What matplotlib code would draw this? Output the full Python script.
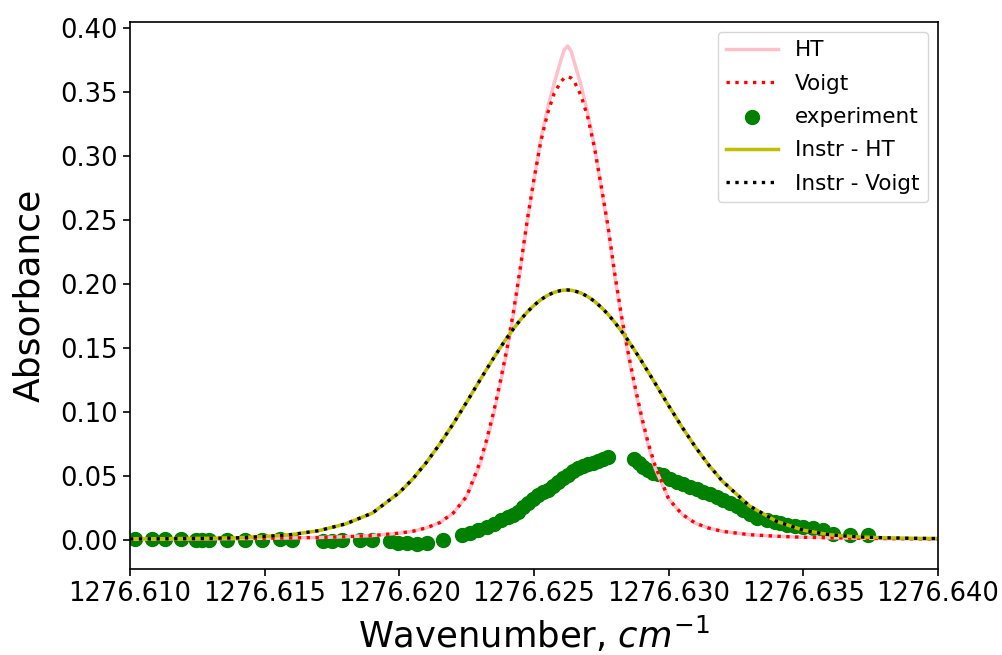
import matplotlib
matplotlib.use('Agg')
import matplotlib.pyplot as plt


# model curves: wavenumber grid and absorbance
wavenumber = [1276.6100, 1276.6110, 1276.6120, 1276.6130, 1276.6140, 1276.6150,
              1276.6160, 1276.6170, 1276.6180, 1276.6190, 1276.6200, 1276.62050,
              1276.6210, 1276.62150, 1276.6220, 1276.62250, 1276.6230, 1276.62325,
              1276.62350, 1276.62375, 1276.6240, 1276.62425, 1276.62450, 1276.62475,
              1276.6250, 1276.62525, 1276.62550, 1276.62575, 1276.6260, 1276.626125,
              1276.62625, 1276.626375,
              1276.62650, 1276.62675, 1276.6270, 1276.62725, 1276.62750, 1276.62775,
              1276.6280, 1276.62825, 1276.62850, 1276.62875, 1276.6290, 1276.62925,
              1276.62950, 1276.6300, 1276.63050, 1276.6310, 1276.63150, 1276.6320,
              1276.6330, 1276.6340, 1276.6350, 1276.6360, 1276.6370, 1276.6380,
              1276.6390, 1276.6400]

ht = [0.0006, 0.0007, 0.0008, 0.0009, 0.0011, 0.0013,
      0.0016, 0.0019, 0.0025, 0.0034, 0.0053, 0.0068,
      0.0094, 0.0135, 0.021, 0.034, 0.059, 0.077,
      0.098, 0.122, 0.148, 0.178, 0.212, 0.249,
      0.281, 0.313, 0.337, 0.357, 0.375, 0.383,
      0.386, 0.382,
      0.373, 0.355, 0.333, 0.307, 0.275, 0.243,
      0.206, 0.173, 0.144, 0.118, 0.094, 0.073,
      0.056, 0.032, 0.020, 0.013, 0.0092, 0.0067,
      0.0041, 0.0029, 0.0021, 0.0017, 0.0014, 0.0011,
      0.0009, 0.0008]

voigt = [0.0006, 0.0007, 0.0008, 0.0009, 0.0011, 0.0013,
         0.0016, 0.0019, 0.0025, 0.0034, 0.0053, 0.0068,
         0.0094, 0.0135, 0.021, 0.034, 0.061, 0.079,
         0.100, 0.124, 0.150, 0.180, 0.214, 0.250,
         0.282, 0.311, 0.333, 0.349, 0.358, 0.361,
         0.362, 0.361,
         0.358, 0.347, 0.330, 0.306, 0.276, 0.245,
         0.208, 0.175, 0.146, 0.120, 0.096, 0.075,
         0.058, 0.032, 0.020, 0.013, 0.0092, 0.0067,
         0.0041, 0.0029, 0.0021, 0.0017, 0.0014, 0.0011,
         0.0009, 0.0008]

instr_ht = [0.0008, 0.0009, 0.0011, 0.0013, 0.0017, 0.0027,
            0.0042, 0.0072, 0.0125, 0.021, 0.037, 0.0477,
            0.0604, 0.0749, 0.0907, 0.1077, 0.1251, 0.1337,
            0.1421, 0.1503, 0.1581, 0.1654, 0.1721, 0.1781,
            0.1833, 0.1877, 0.1911, 0.1935, 0.1949, 0.1952,
            0.1953, 0.1951,
            0.1946, 0.1929, 0.1901, 0.1864, 0.1817, 0.1763,
            0.1700, 0.1631, 0.1557, 0.1477, 0.1395, 0.1309,
            0.1223, 0.1049, 0.0881, 0.0724, 0.0582, 0.0458,
            0.0266, 0.0146, 0.0076, 0.0040, 0.0024, 0.0017,
            0.0013, 0.0011]

instr_voigt = [0.0008, 0.0009, 0.0011, 0.0013, 0.0017, 0.0027,
               0.0042, 0.0072, 0.0125, 0.021, 0.037, 0.0477,
               0.0604, 0.0749, 0.0907, 0.1077, 0.1251, 0.1337,
               0.1421, 0.1503, 0.1581, 0.1654, 0.1721, 0.1781,
               0.1833, 0.1877, 0.1911, 0.1935, 0.1949, 0.1952,
               0.1953, 0.1951,
               0.1946, 0.1929, 0.1901, 0.1864, 0.1817, 0.1763,
               0.1700, 0.1631, 0.1557, 0.1477, 0.1395, 0.1309,
               0.1223, 0.1049, 0.0881, 0.0724, 0.0582, 0.0458,
               0.0266, 0.0146, 0.0076, 0.0040, 0.0024, 0.0017,
               0.0013, 0.0011]

# measured spectrum
exp_wavenumber = [1276.61019, 1276.61082, 1276.61130, 1276.61189, 1276.61245, 1276.61267,
                  1276.61293, 1276.61360, 1276.61427, 1276.61490, 1276.61557, 1276.61602,
                  1276.61717, 1276.61750, 1276.61787, 1276.61854, 1276.61899, 1276.61965,
                  1276.61995, 1276.62028, 1276.62066, 1276.62103, 1276.62162, 1276.62233,
                  1276.62262, 1276.62292, 1276.62326, 1276.62352, 1276.62378, 1276.62404,
                  1276.62422, 1276.62441, 1276.62459, 1276.62478, 1276.62496, 1276.62515,
                  1276.62533, 1276.62552, 1276.62571, 1276.62589, 1276.62608, 1276.62626,
                  1276.62645, 1276.62663, 1276.62682, 1276.62701, 1276.62719, 1276.62738,
                  1276.62756, 1276.62775,
                  1276.62871, 1276.62890, 1276.62905, 1276.62923, 1276.62942, 1276.62960,
                  1276.62979, 1276.63005, 1276.63031, 1276.63053, 1276.63079, 1276.63105,
                  1276.63128, 1276.63154, 1276.63179, 1276.63202, 1276.63228, 1276.63254,
                  1276.63276, 1276.63302, 1276.63328, 1276.63365, 1276.63395, 1276.63413,
                  1276.63439, 1276.63469, 1276.63499, 1276.63536, 1276.63573, 1276.63610,
                  1276.63673, 1276.63740]

exp_absorbance = [0.0004, 0.0004, 0.0004, 0.0004, 0.0000, -0.0004,
                  0.0000, -0.0004, 0.0000, 0.0000, 0.0004, 0.0000,
                  -0.0012, -0.0012, 0.0000, -0.0004, -0.0004, -0.0012,
                  -0.0020, -0.0023, -0.0031, -0.0023, -0.0004, 0.0039,
                  0.0055, 0.0074, 0.0098, 0.0121, 0.0152, 0.0176,
                  0.0195, 0.0221, 0.0254, 0.0287, 0.0320, 0.0352,
                  0.0371, 0.0391, 0.0422, 0.0455, 0.0484, 0.0508,
                  0.0535, 0.0560, 0.0578, 0.0594, 0.0605, 0.0620,
                  0.0633, 0.0646,
                  0.0630, 0.0602, 0.0573, 0.0547, 0.0523, 0.0512,
                  0.0504, 0.0480, 0.0455, 0.0438, 0.0416, 0.0398,
                  0.0377, 0.0359, 0.0338, 0.0313, 0.0287, 0.0262,
                  0.0234, 0.0203, 0.0170, 0.0156, 0.0137, 0.0130,
                  0.0117, 0.0109, 0.0104, 0.0091, 0.0078, 0.0047,
                  0.0035, 0.0035]

x_ticks = [1276.610, 1276.615, 1276.620, 1276.625, 1276.630, 1276.635, 1276.640]


fig = plt.figure(figsize=(10.03, 6.55), dpi=100)
ax = fig.add_axes([0.1296, 0.1313, 0.8056, 0.8351])

ax.plot(wavenumber, ht, color='pink', lw=2.5, label='HT')
ax.plot(wavenumber, voigt, 'r:', lw=2.4, label='Voigt')
ax.scatter(exp_wavenumber, exp_absorbance, color='g', s=100, label='experiment')
ax.plot(wavenumber, instr_ht, color='y', lw=2.5, label='Instr - HT')
ax.plot(wavenumber, instr_voigt, 'k:', lw=2.4, label='Instr - Voigt')

ax.set_xlim(1276.610, 1276.640)
ax.set_ylim(-0.0227, 0.4047)
ax.set_xticks(x_ticks)
ax.set_xticklabels(['%.3f' % t for t in x_ticks])
ax.tick_params(labelsize=18.5, length=5, width=1.2, pad=3.6)
for s in ax.spines.values():
    s.set_linewidth(1.2)

ax.set_xlabel('Wavenumber, $cm^{-1}$', fontsize=25.5, labelpad=6)
ax.set_ylabel('Absorbance', fontsize=26, labelpad=10)
ax.legend(loc='upper right', fontsize=15.5, labelspacing=0.62, handlelength=2.4,
          borderaxespad=0.45)

fig.savefig('out.png', dpi=100)
